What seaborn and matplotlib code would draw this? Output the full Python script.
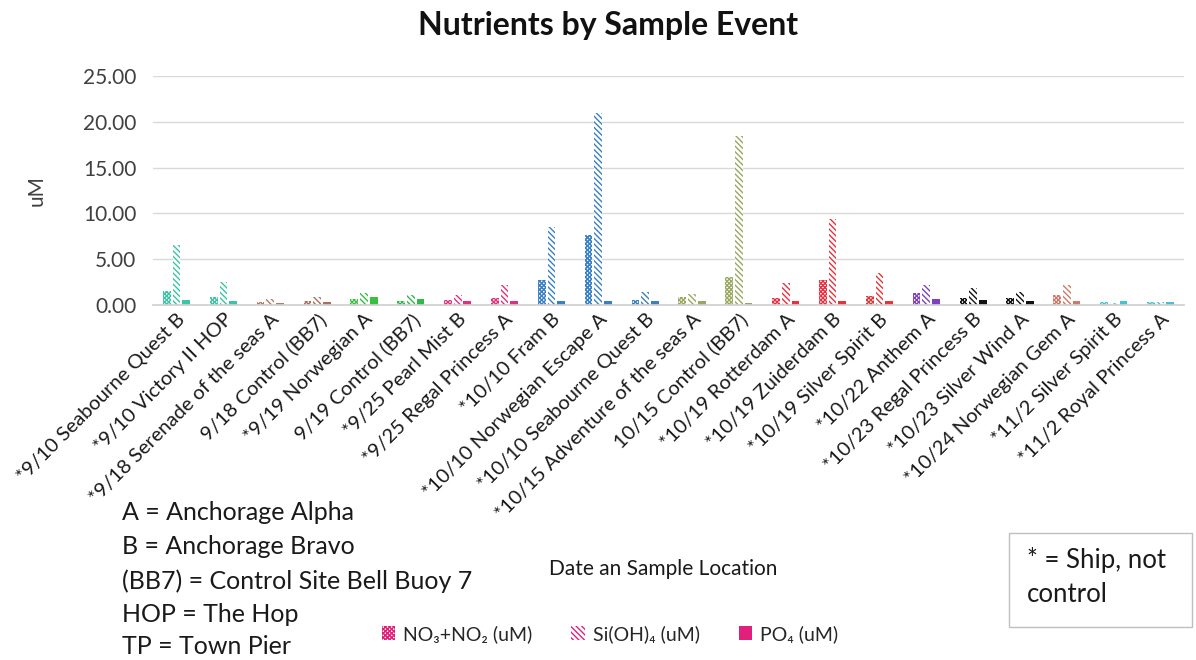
import matplotlib
matplotlib.use("Agg")
import matplotlib.pyplot as plt
from matplotlib.patches import Patch, Rectangle
import seaborn as sns
import pandas as pd

categories = [
    "*9/10 Seabourne Quest B", "*9/10 Victory II HOP", "*9/18 Serenade of the seas A",
    "9/18 Control (BB7)", "*9/19 Norwegian A", "9/19 Control (BB7)", "*9/25 Pearl Mist B",
    "*9/25 Regal Princess A", "*10/10 Fram B", "*10/10 Norwegian Escape A",
    "*10/10 Seabourne Quest B", "*10/15 Adventure of the seas A", "10/15 Control (BB7)",
    "*10/19 Rotterdam A", "*10/19 Zuiderdam B", "*10/19 Silver Spirit B", "*10/22 Anthem A",
    "*10/23 Regal Princess B", "*10/23 Silver Wind A", "*10/24 Norwegian Gem A",
    "*11/2 Silver Spirit B", "*11/2 Royal Princess A",
]
no3_no2 = [1.5, 0.9, 0.35, 0.4, 0.6, 0.4, 0.55, 0.8, 2.7, 7.6, 0.5, 0.9, 3.0,
           0.75, 2.7, 1.0, 1.35, 0.8, 0.8, 1.1, 0.3, 0.3]
si_oh4 = [6.5, 2.5, 0.7, 0.9, 1.3, 1.1, 1.1, 2.2, 8.5, 20.9, 1.45, 1.2, 18.4,
          2.4, 9.4, 3.5, 2.2, 1.85, 1.4, 2.2, 0.2, 0.3]
po4 = [0.55, 0.45, 0.2, 0.35, 0.9, 0.6, 0.45, 0.45, 0.4, 0.4, 0.4, 0.45, 0.2,
       0.4, 0.4, 0.4, 0.6, 0.5, 0.4, 0.4, 0.4, 0.3]
series_names = ["NO\u2083+NO\u2082 (uM)", "Si(OH)\u2084 (uM)", "PO\u2084 (uM)"]
cat_colors = ["#3cc4a4", "#3cc4a4", "#b87a64", "#a8705c", "#38c040", "#30b848",
              "#e0307c", "#e0307c", "#3a80c0", "#3a80c0", "#3a80c0", "#98a860",
              "#98a860", "#e83040", "#e83040", "#e03838", "#8040c0", "#111111",
              "#111111", "#d07868", "#48c0d0", "#48c0d0"]
legend_color = "#e0207a"
hatches = ["xxxxxxxx", "\\\\\\\\\\\\", None]

df = pd.DataFrame({
    "cat": categories * 3,
    "val": no3_no2 + si_oh4 + po4,
    "series": [series_names[0]] * len(categories) + [series_names[1]] * len(categories)
              + [series_names[2]] * len(categories),
})

sns.set_theme(style="white")
plt.rcParams["font.family"] = ["Lato", "DejaVu Sans"]
plt.rcParams["hatch.linewidth"] = 1.0

fig = plt.figure(figsize=(11.96, 6.6), dpi=100)
ax = fig.add_axes([0.128, 0.538, 0.862, 0.347])

sns.barplot(data=df, x="cat", y="val", hue="series", order=categories,
            hue_order=series_names, width=0.62, gap=0.2, ax=ax, legend=False,
            err_kws={"linewidth": 0})

for si, cont in enumerate(ax.containers):
    for j, bar in enumerate(cont):
        c = cat_colors[j]
        if hatches[si]:
            bar.set_facecolor("white")
            bar.set_edgecolor(c)
            bar.set_hatch(hatches[si])
            bar.set_linewidth(0)
        else:
            bar.set_facecolor(c)
            bar.set_edgecolor(c)
            bar.set_linewidth(0)

ax.set_ylim(0, 25)
ax.set_yticks([0, 5, 10, 15, 20, 25])
ax.set_yticklabels([f"{v:.2f}" for v in [0, 5, 10, 15, 20, 25]], fontsize=15, color="#404040")
ax.yaxis.grid(True, color="#d9d9d9", linewidth=1)
ax.set_axisbelow(True)
for s in ["top", "right", "left"]:
    ax.spines[s].set_visible(False)
ax.spines["bottom"].set_color("#d0d0d0")
ax.tick_params(axis="both", length=0, pad=12)
ax.set_xlim(-0.5, len(categories) - 0.5)
ax.set_xticks(range(len(categories)))
ax.set_xticklabels(categories, rotation=45, ha="right", rotation_mode="anchor",
                   fontsize=14.5, color="#1a1a1a")
ax.tick_params(axis="x", pad=4)
ax.set_xlabel("")
ax.set_ylabel("uM", fontsize=15, color="#404040", labelpad=26)

fig.text(0.508, 0.962, "Nutrients by Sample Event", ha="center", va="center",
         fontsize=23, fontweight="bold", color="#111111")

notes = ["A = Anchorage Alpha", "B = Anchorage Bravo", "(BB7) = Control Site Bell Buoy 7",
         "HOP = The Hop", "TP = Town Pier"]
ys = [513, 547, 581, 614, 647]
for t, y in zip(notes, ys):
    fig.text(122 / 1196, 1 - y / 660, t, ha="left", va="center", fontsize=18, color="#1a1a1a")

fig.text(663 / 1196, 1 - 569 / 660, "Date an Sample Location", ha="center", va="center",
         fontsize=15, color="#1a1a1a")

fig.patches.append(Rectangle((1009 / 1196, 1 - 627 / 660), (1192 - 1009) / 1196,
                             (627 - 533) / 660, transform=fig.transFigure, fill=False,
                             edgecolor="#bfbfbf", linewidth=1))
fig.text(1027 / 1196, 1 - 560 / 660, "* = Ship, not", ha="left", va="center", fontsize=18.5, color="#1a1a1a")
fig.text(1027 / 1196, 1 - 594 / 660, "control", ha="left", va="center", fontsize=18.5, color="#1a1a1a")

handles = [
    Patch(facecolor="white", edgecolor=legend_color, hatch="xxxxxxxx", linewidth=0),
    Patch(facecolor="white", edgecolor=legend_color, hatch="\\\\\\\\\\\\", linewidth=0),
    Patch(facecolor=legend_color, edgecolor=legend_color, linewidth=0),
]
fig.legend(handles, series_names, loc="center", bbox_to_anchor=(610 / 1196, 1 - 634 / 660),
           ncol=3, frameon=False, fontsize=14, handlelength=0.7, handleheight=0.7,
           columnspacing=2.0, handletextpad=0.4)

fig.savefig("out.png", dpi=100)
